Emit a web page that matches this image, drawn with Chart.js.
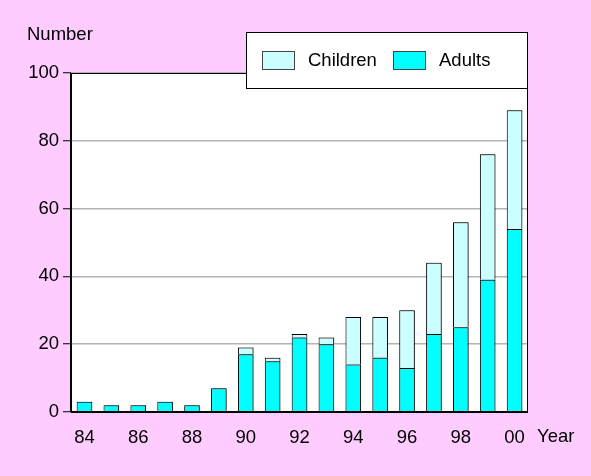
<!DOCTYPE html>
<html>
<head>
<meta charset="utf-8">
<script src="https://cdn.jsdelivr.net/npm/chart.js@4"></script>
<style>
  html, body { margin: 0; padding: 0; background: #FFCCFF; }
  #wrap { width: 591px; height: 476px; position: relative; }
</style>
</head>
<body>
<div id="wrap"><canvas id="c" width="591" height="476"></canvas></div>
<script>
const years = ['84','85','86','87','88','89','90','91','92','93','94','95','96','97','98','99','00'];
const adults   = [3, 2, 2, 3, 2, 7, 17, 15, 22, 20, 14, 16, 13, 23, 25, 39, 54];
const children = [0, 0, 0, 0, 0, 0, 2, 1, 1, 2, 14, 12, 17, 21, 31, 37, 35];
const yTicks = [0, 20, 40, 60, 80, 100];

const FONT = "'Liberation Sans', Arial, sans-serif";
const FS = 18.5;
const PINK = '#FFCCFF';

const decor = {
  id: 'decor',
  beforeDraw(chart) {
    const { ctx, chartArea: a } = chart;
    ctx.save();
    ctx.fillStyle = PINK;
    ctx.fillRect(0, 0, chart.width, chart.height);
    ctx.fillStyle = '#ffffff';
    ctx.fillRect(a.left, a.top, a.right - a.left, a.bottom - a.top);
    ctx.restore();
  },
  beforeDatasetDraw(chart) {
    const ctx = chart.ctx;
    ctx.save();
    ctx.shadowColor = 'rgba(0,0,0,0.45)';
    ctx.shadowBlur = 2;
    ctx.shadowOffsetX = 1;
    ctx.shadowOffsetY = 0;
  },
  afterDatasetDraw(chart) {
    chart.ctx.restore();
  },
  afterDraw(chart) {
    const { ctx, chartArea: a } = chart;
    ctx.save();
    // plot border
    ctx.strokeStyle = '#000';
    ctx.lineWidth = 1;
    ctx.strokeRect(a.left + 0.5, a.top + 0.5, a.right - a.left - 1, a.bottom - a.top);
    ctx.lineWidth = 2;
    ctx.beginPath();
    ctx.moveTo(a.left, a.bottom);
    ctx.lineTo(a.right, a.bottom);
    ctx.moveTo(a.left, a.top);
    ctx.lineTo(a.left, a.bottom);
    ctx.stroke();

    // axis titles
    ctx.fillStyle = '#000';
    ctx.font = FS + 'px ' + FONT;
    ctx.textBaseline = 'middle';
    ctx.textAlign = 'left';
    ctx.fillText('Number', 27, 35);
    ctx.fillText('Year', 537, 437);

    // legend box
    const lx = 246, ly = 32, lw = a.right - 246, lh = 56;
    ctx.fillStyle = '#ffffff';
    ctx.fillRect(lx, ly, lw, lh);
    ctx.strokeStyle = '#000';
    ctx.lineWidth = 1;
    ctx.strokeRect(lx + 0.5, ly + 0.5, lw - 1, lh);
    const items = [
      { label: chart.data.datasets[1].label, color: chart.data.datasets[1].backgroundColor, sx: 262, tx: 308 },
      { label: chart.data.datasets[0].label, color: chart.data.datasets[0].backgroundColor, sx: 393, tx: 439 }
    ];
    items.forEach(it => {
      ctx.fillStyle = it.color;
      ctx.fillRect(it.sx, 51, 32, 18);
      ctx.strokeStyle = '#444';
      ctx.strokeRect(it.sx + 0.5, 51.5, 32, 18);
      ctx.fillStyle = '#000';
      ctx.fillText(it.label, it.tx, 61);
    });
    ctx.restore();
  }
};

new Chart(document.getElementById('c'), {
  type: 'bar',
  data: {
    labels: years,
    datasets: [
      { label: 'Adults', data: adults, backgroundColor: '#00FFFF', borderColor: '#000', borderWidth: 1, borderSkipped: 'bottom' },
      { label: 'Children', data: children, backgroundColor: '#CCFFFF', borderColor: '#000', borderWidth: 1, borderSkipped: 'bottom' }
    ]
  },
  options: {
    responsive: false,
    animation: false,
    devicePixelRatio: 1,
    layout: { padding: { left: 0, top: 73, right: 63, bottom: 0 } },
    datasets: { bar: { barPercentage: 0.58, categoryPercentage: 1.0 } },
    plugins: { legend: { display: false }, tooltip: { enabled: false }, title: { display: false } },
    scales: {
      x: {
        stacked: true,
        afterFit(s) { s.height = 64; },
        grid: { display: false, drawTicks: false },
        border: { display: false },
        ticks: {
          autoSkip: false,
          maxRotation: 0,
          padding: 15,
          color: '#000',
          font: { family: FONT, size: FS },
          callback: (v, i) => (i % 2 === 0 ? years[i] : '')
        }
      },
      y: {
        stacked: true,
        min: 0,
        max: 100,
        afterFit(s) { s.width = 71; },
        afterBuildTicks(s) { s.ticks = yTicks.map(v => ({ value: v })); },
        grid: { color: '#b4b4b4', lineWidth: 1.5, tickLength: 8, tickColor: '#000', tickWidth: 1 },
        border: { display: false },
        ticks: {
          padding: 4,
          color: '#000',
          font: { family: FONT, size: FS }
        }
      }
    }
  },
  plugins: [decor]
});
</script>
</body>
</html>
